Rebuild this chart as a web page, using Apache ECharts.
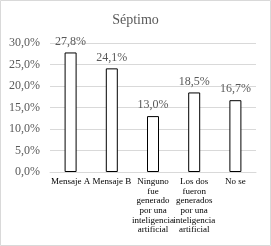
<!DOCTYPE html>
<html><head><meta charset="utf-8">
<script src="https://cdn.jsdelivr.net/npm/echarts@6/dist/echarts.min.js"></script>
<style>html,body{margin:0;padding:0;background:#fff}#c{width:271px;height:246px}</style>
</head><body><div id="c"></div>
<script>
const titleText = 'Séptimo';
const categories = ['Mensaje A','Mensaje B','Ninguno\nfue\ngenerado\npor una\ninteligencia\nartificial','Los dos\nfueron\ngenerados\npor una\ninteligencia\nartificial','No se'];
const values = [27.8, 24.1, 13.0, 18.5, 16.7];
const yTicks = [0, 5, 10, 15, 20, 25, 30];

const fmt = v => v.toFixed(1).replace('.', ',') + '%';
const font = '"Liberation Serif","Times New Roman",serif';
const chart = echarts.init(document.getElementById('c'), null, {renderer:'canvas'});
chart.setOption({
  animation:false,
  backgroundColor:'#fff',
  title:{text:titleText,left:'center',top:8,textStyle:{fontFamily:font,fontSize:14,fontWeight:'normal',color:'#595959'}},
  graphic:[{type:'rect',shape:{x:0.5,y:0.5,width:270,height:245},style:{fill:'none',stroke:'#d9d9d9',lineWidth:1},silent:true}],
  grid:{left:50,right:15,top:43,bottom:74,containLabel:false,outerBoundsMode:'none'},
  xAxis:{type:'category',data:categories,
    axisLine:{show:true,lineStyle:{color:'#d9d9d9'}},axisTick:{show:false},
    axisLabel:{interval:0,margin:5,fontFamily:font,fontSize:9,lineHeight:9.6,color:'#000'}},
  yAxis:{type:'value',min:yTicks[0],max:yTicks[yTicks.length-1],interval:5,
    axisLine:{show:false},axisTick:{show:false},
    splitLine:{lineStyle:{color:'#d9d9d9'}},
    axisLabel:{formatter:v=>fmt(v),fontFamily:font,fontSize:12,color:'#595959',margin:10}},
  series:[{type:'bar',data:values,barWidth:12,
    itemStyle:{color:'#fff',borderColor:'#000',borderWidth:1},
    label:{show:true,position:'top',distance:5,formatter:p=>fmt(p.value),fontFamily:font,fontSize:12,color:'#595959'}}]
});
</script></body></html>
